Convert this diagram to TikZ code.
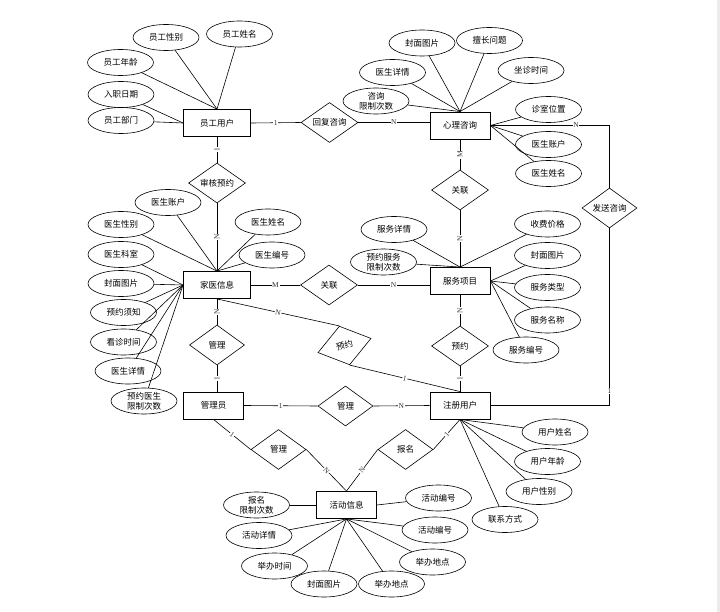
\documentclass[tikz,border=0pt]{standalone}
\usepackage{fontspec}
\setmainfont{Liberation Serif}
\newfontfamily\cjk{Noto Sans CJK SC}
\usetikzlibrary{shapes.geometric}

\begin{document}
\begin{tikzpicture}[
    x=1pt, y=-1pt,
    every node/.style={font=\cjk\fontsize{8.5}{10}\selectfont},
    ent/.style={rectangle, draw, line width=0.9pt, minimum width=60pt, minimum height=27pt, inner sep=0pt},
    rel/.style={diamond, draw, line width=0.6pt, shape aspect=1.5, minimum width=57pt, minimum height=40pt, inner sep=0pt},
    attr/.style={ellipse, draw, line width=0.6pt, minimum width=66pt, minimum height=26pt, inner sep=0pt, align=center},
    card/.style={font=\fontsize{7.5}{8}\selectfont, fill=white, inner sep=0.6pt, text=black!80},
    link/.style={line width=0.6pt}
]
\useasboundingbox (0,0) rectangle (720,612);
\fill[black!8] (717,0) rectangle (720,612);

% 实体
\node[ent, minimum width=67pt] (yg) at (217,123) {员工用户};
\node[ent] (xl) at (460,125.5) {心理咨询};
\node[ent, minimum width=67pt] (jy) at (217,285) {家医信息};
\node[ent] (fw) at (460,281) {服务项目};
\node[ent] (gly) at (213.5,405.5) {管理员};
\node[ent] (zc) at (460,405.5) {注册用户};
\node[ent] (hd) at (346.5,505) {活动信息};

% 联系
\node[rel] (hf) at (329.5,122.5) {回复咨询};
\node[rel] (sh) at (217,183) {审核预约};
\node[rel] (gl1) at (460,190) {关联};
\node[rel] (gl2) at (329,285) {关联};
\node[rel] (yy1) at (460,346) {预约};
\node[rel, rotate=15, minimum width=55pt] (yy2) at (344.5,345.5) {预约};
\node[rel, minimum width=55pt] (gz1) at (217,345) {管理};
\node[rel, minimum width=55pt] (gz2) at (345.5,406) {管理};
\node[rel, minimum width=55pt] (gz3) at (278.5,449.5) {管理};
\node[rel, minimum width=55pt] (bm) at (405.5,449.5) {报名};
\node[rel, minimum width=55pt] (fs) at (609.5,208) {发送咨询};

% 员工用户属性
\node[attr] (yg1) at (166,37.5) {员工性别};
\node[attr] (yg2) at (239.5,34) {员工姓名};
\node[attr] (yg3) at (120.5,62.5) {员工年龄};
\node[attr] (yg4) at (121,94.5) {入职日期};
\node[attr] (yg5) at (121,120.5) {员工部门};

% 心理咨询属性
\node[attr] (xl1) at (422,43) {封面图片};
\node[attr] (xl2) at (489.5,40.5) {擅长问题};
\node[attr] (xl3) at (531,70.5) {坐诊时间};
\node[attr] (xl4) at (392.5,72.5) {医生详情};
\node[attr] (xl5) at (376,101) {咨询\\限制次数};
\node[attr] (xl6) at (548.5,109.5) {诊室位置};
\node[attr] (xl7) at (548.5,144.5) {医生账户};
\node[attr] (xl8) at (548.5,173.5) {医生姓名};

% 家医信息属性
\node[attr] (jy1) at (168,202.5) {医生账户};
\node[attr] (jy2) at (121,224.5) {医生性别};
\node[attr] (jy3) at (121,254.5) {医生科室};
\node[attr] (jy4) at (121,283.5) {封面图片};
\node[attr] (jy5) at (123.5,312.5) {预约须知};
\node[attr] (jy6) at (123.5,342) {看诊时间};
\node[attr] (jy7) at (128,371) {医生详情};
\node[attr] (jy8) at (144,401) {预约医生\\限制次数};
\node[attr] (jy9) at (268,222) {医生姓名};
\node[attr] (jy10) at (272,255) {医生编号};

% 服务项目属性
\node[attr] (fw1) at (394,229.5) {服务详情};
\node[attr] (fw2) at (383.5,262) {预约服务\\限制次数};
\node[attr] (fw3) at (547.5,224) {收费价格};
\node[attr] (fw4) at (547.5,255.5) {封面图片};
\node[attr] (fw5) at (547.5,287.5) {服务类型};
\node[attr] (fw6) at (547.5,320) {服务名称};
\node[attr] (fw7) at (526,350) {服务编号};

% 注册用户属性
\node[attr] (zc1) at (555,432) {用户姓名};
\node[attr] (zc2) at (547.5,461.5) {用户年龄};
\node[attr] (zc3) at (539,491.5) {用户性别};
\node[attr] (zc4) at (505,519.5) {联系方式};

% 活动信息属性
\node[attr] (hd1) at (256.5,505) {报名\\限制次数};
\node[attr] (hd2) at (259,535.5) {活动详情};
\node[attr] (hd3) at (274.5,566) {举办时间};
\node[attr] (hd4) at (324,584) {封面图片};
\node[attr] (hd5) at (391.5,584) {举办地点};
\node[attr] (hd6) at (432.5,562) {举办地点};
\node[attr] (hd7) at (435,530) {活动编号};
\node[attr] (hd8) at (438.5,498) {活动编号};

% 属性连线
\foreach \a in {yg1,yg2,yg3} \draw[link] (\a) -- (yg.north);
\foreach \a in {yg4,yg5} \draw[link] (\a) -- (yg.west);
\foreach \a in {xl1,xl2,xl3,xl4,xl5} \draw[link] (\a) -- (xl.north);
\foreach \a in {xl6,xl7,xl8} \draw[link] (\a) -- (xl.east);
\foreach \a in {jy1,jy2,jy9,jy10} \draw[link] (\a) -- (jy.north);
\foreach \a in {jy3,jy4,jy5,jy6,jy7,jy8} \draw[link] (\a) -- (jy.west);
\foreach \a in {fw1,fw2,fw3} \draw[link] (\a) -- (fw.north);
\foreach \a in {fw4,fw5,fw6,fw7} \draw[link] (\a) -- (fw.east);
\foreach \a in {zc1,zc2,zc3,zc4} \draw[link] (\a) -- (zc.south);
\foreach \a in {hd2,hd3,hd4,hd5,hd6,hd7} \draw[link] (\a) -- (hd.south);
\draw[link] (hd1) -- (hd.west);
\draw[link] (hd8) -- (hd.east);

% 联系连线
\draw[link] (yg.east) -- node[card] {1} (hf.west);
\draw[link] (hf.east) -- node[card] {N} (hf.east -| xl.west);
\draw[link] (yg.south) -- node[card, rotate=90] {1} (sh.north);
\draw[link] (sh.south) -- node[card, rotate=90] {N} (jy.north);
\draw[link] (xl.south) -- node[card, rotate=90] {M} (gl1.north);
\draw[link] (gl1.south) -- node[card, rotate=90] {N} (fw.north);
\draw[link] (jy.east) -- node[card] {M} (gl2.west);
\draw[link] (gl2.east) -- node[card] {N} (gl2.east -| fw.west);
\draw[link] (fw.south) -- node[card, rotate=90] {N} (yy1.north);
\draw[link] (yy1.south) -- node[card, rotate=90] {1} (zc.north);
\draw[link] (jy.south) -- node[card, sloped, pos=0.5] {N} (yy2.north);
\draw[link] (yy2.south) -- node[card, sloped] {1} (zc.north);
\draw[link] (jy.south) -- node[card, rotate=90] {N} (gz1.north);
\draw[link] (gz1.south) -- node[card, rotate=90] {1} (gz1.south |- gly.north);
\draw[link] (gly.east) -- node[card] {1} (gz2.west);
\draw[link] (gz2.east) -- node[card] {N} (zc.west);
\draw[link] (gly.south) -- node[card, sloped] {1} (gz3.west);
\draw[link] (gz3.east) -- node[card, sloped] {N} (hd.north);
\draw[link] (hd.north) -- node[card, sloped] {N} (bm.west);
\draw[link] (bm.east) -- node[card, sloped] {1} (zc.south);
\draw[link] (xl.east) -| node[card, pos=0.36] {N} (fs.north);
\draw[link] (fs.south) |- node[card, pos=0.46] {1} (zc.east);
\end{tikzpicture}
\end{document}
